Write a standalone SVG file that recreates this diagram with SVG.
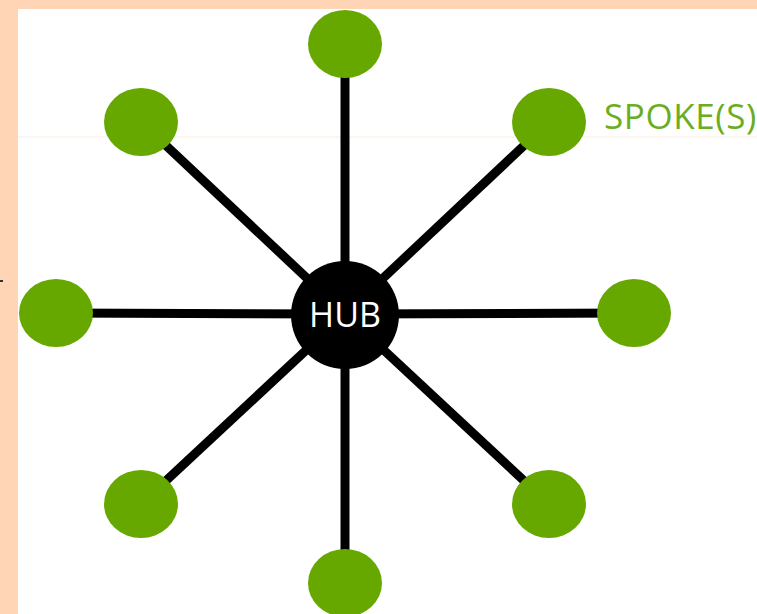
<svg xmlns="http://www.w3.org/2000/svg" width="757" height="614" viewBox="0 0 757 614">
<style>
.spoke{fill:#66a800}
.edge{stroke:#000;stroke-width:9;fill:none}
.lbl{font-family:"Open Sans","Noto Sans",sans-serif}
</style>
<rect x="0" y="0" width="757" height="614" fill="#ffd5b6"/>
<rect x="18" y="9" width="739" height="605" fill="#ffffff"/>
<rect x="18" y="136.5" width="739" height="1" fill="#f9ece2"/>
<rect x="0" y="280" width="3" height="2" fill="#333"/>
<g id="connectors">
<line class="edge" x1="345" y1="314" x2="345" y2="44"/>
<line class="edge" x1="345" y1="314" x2="141" y2="122"/>
<line class="edge" x1="345" y1="314" x2="549" y2="122"/>
<line class="edge" x1="345" y1="314" x2="56" y2="313"/>
<line class="edge" x1="345" y1="314" x2="634" y2="313"/>
<line class="edge" x1="345" y1="314" x2="141" y2="504"/>
<line class="edge" x1="345" y1="314" x2="549" y2="504"/>
<line class="edge" x1="345" y1="314" x2="345" y2="583"/>
</g>
<g id="spoke-top"><ellipse class="spoke" cx="345" cy="44" rx="37" ry="34"/></g>
<g id="spoke-top-left"><ellipse class="spoke" cx="141" cy="122" rx="37" ry="34"/></g>
<g id="spoke-top-right"><ellipse class="spoke" cx="549" cy="122" rx="37" ry="34"/></g>
<g id="spoke-left"><ellipse class="spoke" cx="56" cy="313" rx="37" ry="34"/></g>
<g id="spoke-right"><ellipse class="spoke" cx="634" cy="313" rx="37" ry="34"/></g>
<g id="spoke-bottom-left"><ellipse class="spoke" cx="141" cy="504" rx="37" ry="34"/></g>
<g id="spoke-bottom-right"><ellipse class="spoke" cx="549" cy="504" rx="37" ry="34"/></g>
<g id="spoke-bottom"><ellipse class="spoke" cx="345" cy="583" rx="37" ry="34"/></g>
<g id="hub">
<circle cx="345" cy="315" r="54" fill="#000"/>
<text class="lbl" x="345" y="327" font-size="34" fill="#fff" text-anchor="middle">HUB</text>
</g>
<g id="spoke-label">
<text class="lbl" x="604" y="129" font-size="35" letter-spacing="0.6" fill="#6aae1e">SPOKE(S)</text>
</g>
</svg>
